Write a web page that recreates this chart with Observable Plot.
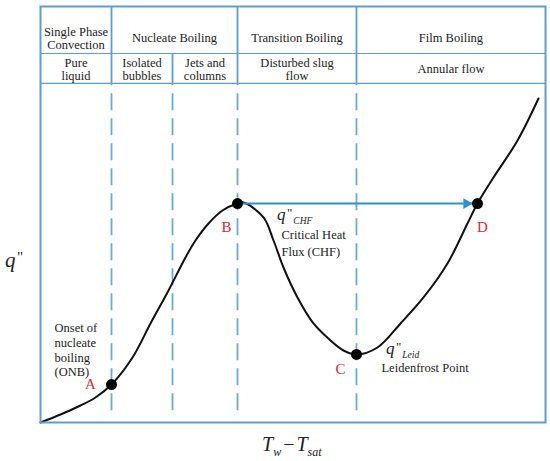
<!DOCTYPE html>
<html><head><meta charset="utf-8">
<script src="https://cdn.jsdelivr.net/npm/d3@7"></script>
<script src="https://cdn.jsdelivr.net/npm/@observablehq/plot@0.6"></script>
<style>body{margin:0;background:#fff} svg{display:block} #chart svg, #chart svg text{font-family:"Liberation Serif","Times New Roman",serif !important}</style>
</head><body><div id="chart"></div>
<script>
// Boiling curve (arbitrary units: x = Tw - Tsat, y = q")
const curveX = [0, 3.96, 7.92, 10.89, 14.06, 18.22, 21.78, 25.35, 28.71, 30.69, 33.27, 36.04, 39.01, 40.2, 44.16, 46.14, 48.12, 50.89, 54.06, 57.43, 60.0, 62.57, 66.73, 71.29, 75.84, 80.59, 84.55, 86.53, 89.7, 94.46, 98.61];
const curveY = [0, 1.92, 4.09, 6.01, 9.13, 15.63, 23.8, 31.73, 39.66, 43.75, 47.84, 50.96, 52.64, 52.88, 49.28, 43.75, 37.26, 30.05, 23.8, 19.71, 17.31, 16.35, 18.03, 23.8, 30.05, 38.22, 47.84, 52.64, 58.89, 67.79, 77.88];
const pointNames = ["A", "B", "C", "D"];
const pointX = [14.06, 39.01, 62.57, 86.53];
const pointY = [9.13, 52.64, 16.35, 52.64];
const boundaries = [14.06, 26.14, 39.01, 62.57];
const regimeLabels = ["Single Phase\nConvection", "Nucleate Boiling", "Transition Boiling", "Film Boiling"];
const regimeStart = [0, 14.06, 39.01, 62.57];
const regimeEnd = [14.06, 39.01, 62.57, 100];
const flowLabels = ["Pure\nliquid", "Isolated\nbubbles", "Jets and\ncolumns", "Disturbed slug\nflow", "Annular flow"];
const flowStart = [0, 14.06, 26.14, 39.01, 62.57];
const flowEnd = [14.06, 26.14, 39.01, 62.57, 100];

const headerTop = 100, headerMid = 88.7, headerBottom = 81.5;
const blue = "#5b9fd0", dashBlue = "#6aaad6", arrowBlue = "#2e8fd3", red = "#e3262b", ink = "#222";
const serif = "Liberation Serif, Times New Roman, serif";

const curve = curveX.map((x, i) => ({x, y: curveY[i]}));
const pts = pointNames.map((name, i) => ({name, x: pointX[i], y: pointY[i]}));
const regimes = regimeLabels.map((t, i) => ({t, x: (regimeStart[i] + regimeEnd[i]) / 2}));
const flows = flowLabels.map((t, i) => ({t, x: (flowStart[i] + flowEnd[i]) / 2}));
const [A, B, C, D] = pts;
const labelOffset = {A: [-21, 0], B: [-11, 24], C: [-16, 15], D: [5, 24]};
const txt = {fontFamily: serif, fill: ink, fontSize: 12.5};

const plot = Plot.plot({
  width: 550, height: 461,
  marginLeft: 40, marginRight: 5, marginTop: 6, marginBottom: 39,
  x: {domain: [0, 100], axis: null},
  y: {domain: [0, 100], axis: null},
  style: {fontFamily: serif, fontSize: "12.5px", color: ink, background: "white"},
  marks: [
    Plot.ruleX(boundaries, {x: d => d, y1: d => d === boundaries[1] ? headerMid : headerTop, y2: headerBottom, stroke: blue, strokeWidth: 1.8}),
    Plot.ruleY([headerMid, headerBottom], {stroke: blue, strokeWidth: 1.2}),
    Plot.ruleX(boundaries, {x: d => d, y1: 2.8, y2: headerBottom, stroke: dashBlue, strokeWidth: 1.8, strokeDasharray: "17,8"}),
    Plot.line(curve, {x: "x", y: "y", curve: "catmull-rom", stroke: "#111", strokeWidth: 2}),
    Plot.link([0], {x1: B.x, y1: B.y, x2: D.x, y2: D.y, stroke: arrowBlue, strokeWidth: 2}),
    Plot.dot([D], {x: "x", y: "y", symbol: "triangle", r: 4, rotate: 90, fill: arrowBlue, dx: -11}),
    Plot.dot(pts, {x: "x", y: "y", r: 5.5, fill: "#000"}),
    ...pts.map(p => Plot.text([p], {x: "x", y: "y", text: "name", fontFamily: serif, fill: red, fontSize: 15,
      dx: labelOffset[p.name][0], dy: labelOffset[p.name][1]})),
    Plot.text(regimes, {x: "x", y: 92.43, text: "t", lineHeight: 1.08, ...txt}),
    Plot.text(flows, {x: "x", y: 84.98, text: "t", lineHeight: 1.1, ...txt}),
    Plot.text([A], {x: "x", y: "y", text: () => "Onset of\nnucleate\nboiling\n(ONB)", textAnchor: "start", lineHeight: 1.17, dx: -57, dy: -35, ...txt}),
    Plot.text([B], {x: "x", y: "y", text: () => "Critical Heat\nFlux (CHF)", textAnchor: "start", lineHeight: 1.36, dx: 44, dy: 38.5, ...txt}),
    Plot.text([C], {x: "x", y: "y", text: () => "Leidenfrost Point", textAnchor: "start", dx: 25, dy: 14, ...txt}),
    Plot.frame({stroke: blue, strokeWidth: 2})
  ]
});

const svg = d3.select(plot);
const sx = plot.scale("x"), sy = plot.scale("y");
const px = v => sx.apply(v), py = v => sy.apply(v);
const g = svg.append("g").attr("font-family", serif).attr("text-anchor", "start");

function qLabel(x, y, sub) {
  const t = g.append("text").attr("x", x).attr("y", y).attr("fill", ink);
  t.append("tspan").attr("font-style", "italic").attr("font-size", 17).text("q");
  t.append("tspan").attr("font-size", 13).attr("dx", 1.5).attr("dy", -3).text("\"");
  t.append("tspan").attr("font-style", "italic").attr("font-size", 9.5).attr("dx", 1).attr("dy", 7).text(sub);
}
qLabel(px(B.x) + 40, py(B.y) + 17, "CHF");
qLabel(px(C.x) + 30, py(C.y) + 0, "Leid");

// axis labels
const yl = g.append("text").attr("x", 5).attr("y", 267).attr("fill", ink);
yl.append("tspan").attr("font-style", "italic").attr("font-size", 21).text("q");
yl.append("tspan").attr("font-size", 15).attr("dx", 1.5).attr("dy", -5).text("\"");

const xl = g.append("text").attr("x", 262).attr("y", 451).attr("fill", ink);
xl.append("tspan").attr("font-style", "italic").attr("font-size", 20).text("T");
xl.append("tspan").attr("font-style", "italic").attr("font-size", 12).attr("dy", 5).text("w");
xl.append("tspan").attr("font-size", 20).attr("dy", -5).attr("dx", 2).text("\u2212");
xl.append("tspan").attr("font-style", "italic").attr("font-size", 20).attr("dx", 2).text("T");
xl.append("tspan").attr("font-style", "italic").attr("font-size", 12).attr("dy", 5).text("sat");

document.getElementById("chart").append(plot);
</script>
</body></html>
